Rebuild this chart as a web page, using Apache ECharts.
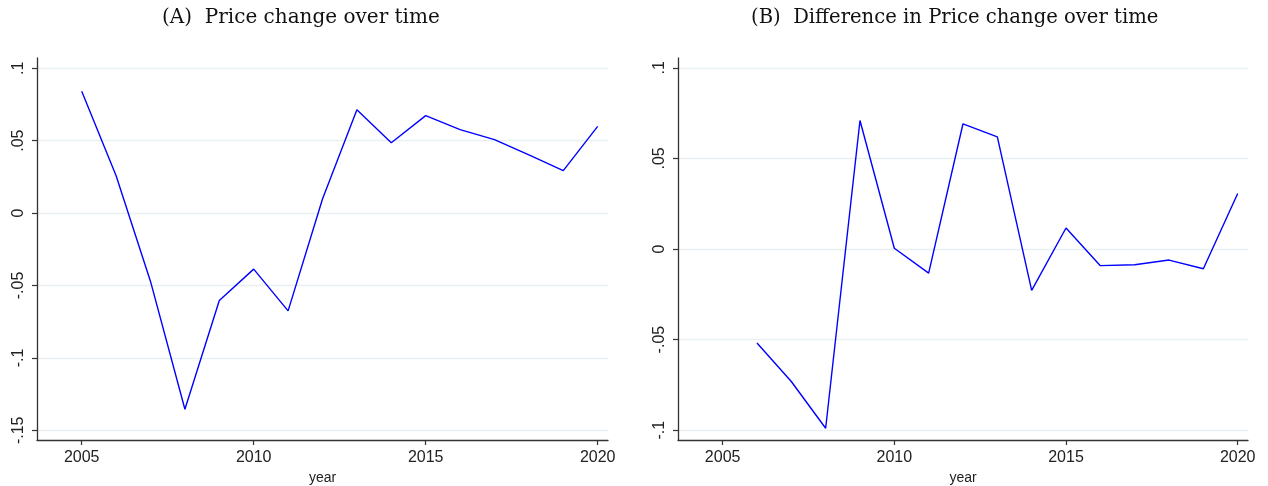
<!DOCTYPE html>
<html>
<head>
<meta charset="utf-8">
<script src="https://cdn.jsdelivr.net/npm/echarts@6/dist/echarts.min.js"></script>
<style>html,body{margin:0;padding:0;background:#fff}#c{width:1268px;height:486px}</style>
</head>
<body>
<div id="c"></div>
<script>
const years = [2005,2006,2007,2008,2009,2010,2011,2012,2013,2014,2015,2016,2017,2018,2019,2020];
const priceChange = [0.0841,0.0258,-0.0472,-0.1355,-0.0604,-0.0387,-0.0675,0.0097,0.0714,0.0486,0.0673,0.0576,0.0507,0.0402,0.0293,0.0599];
const diffPriceChange = [null,-0.0519,-0.0731,-0.0989,0.0709,0.0004,-0.0133,0.0691,0.0619,-0.0228,0.0116,-0.0092,-0.0087,-0.0061,-0.0109,0.0306];
const xTicks = [2005,2010,2015,2020];
const yTicksA = [-0.15,-0.1,-0.05,0,0.05,0.1];
const yTicksB = [-0.1,-0.05,0,0.05,0.1];
const titleA = '(A)  Price change over time';
const titleB = '(B)  Difference in Price change over time';

function fmt(v){
  if (Math.abs(v) < 1e-9) return '0';
  let s = String(Math.round(v*100)/100);
  return s.replace('0.', '.');
}
const pairs = arr => years.map((y,i)=>[y, arr[i]]).filter(p=>p[1]!==null);

const axisColor = '#333';
const labelStyle = {color:'#222', fontFamily:'Liberation Sans, Arial, sans-serif', fontSize:16};

function xAxis(gi){
  return {
    type:'value', gridIndex:gi, min:2003.7, max:2020.3,
    name:'year', nameLocation:'middle', nameGap:30,
    nameTextStyle:{color:'#222', fontFamily:'Liberation Sans, Arial, sans-serif', fontSize:14},
    axisLine:{show:true, onZero:false, lineStyle:{color:axisColor, width:1.3}},
    axisTick:{show:true, length:5, lineStyle:{color:axisColor, width:1.2}, customValues:xTicks},
    axisLabel:Object.assign({customValues:xTicks, margin:10, formatter:v=>String(v)}, labelStyle),
    splitLine:{show:false}
  };
}
function yAxis(gi, min, max, ticks){
  return {
    type:'value', gridIndex:gi, min:min, max:max,
    axisLine:{show:true, onZero:false, lineStyle:{color:axisColor, width:1.3}},
    axisTick:{show:true, length:5, lineStyle:{color:axisColor, width:1.2}, customValues:ticks},
    axisLabel:Object.assign({customValues:ticks, rotate:90, margin:10, formatter:fmt}, labelStyle),
    splitLine:{show:true, lineStyle:{color:'#e8f0f2', width:1.3}}
  };
}

const chart = echarts.init(document.getElementById('c'), null, {renderer:'canvas'});
chart.setOption({
  backgroundColor:'#fff',
  animation:false,
  title:[
    {text:titleA, left:157, top:3, textStyle:{fontFamily:'DejaVu Serif, Liberation Serif, serif', fontWeight:'normal', fontSize:20, color:'#111'}},
    {text:titleB, left:746, top:3, textStyle:{fontFamily:'DejaVu Serif, Liberation Serif, serif', fontWeight:'normal', fontSize:19.6, color:'#111'}}
  ],
  grid:[
    {left:37, right:660, top:58, bottom:46, outerBoundsMode:'none', containLabel:false},
    {left:678, right:20, top:58, bottom:46, outerBoundsMode:'none', containLabel:false}
  ],
  xAxis:[xAxis(0), xAxis(1)],
  yAxis:[yAxis(0,-0.1567,0.1071,yTicksA), yAxis(1,-0.1054,0.1054,yTicksB)],
  series:[
    {type:'line', xAxisIndex:0, yAxisIndex:0, data:pairs(priceChange), symbol:'none', lineStyle:{color:'#0000ff', width:1.4}},
    {type:'line', xAxisIndex:1, yAxisIndex:1, data:pairs(diffPriceChange), symbol:'none', lineStyle:{color:'#0000ff', width:1.4}}
  ]
});
</script>
</body>
</html>
